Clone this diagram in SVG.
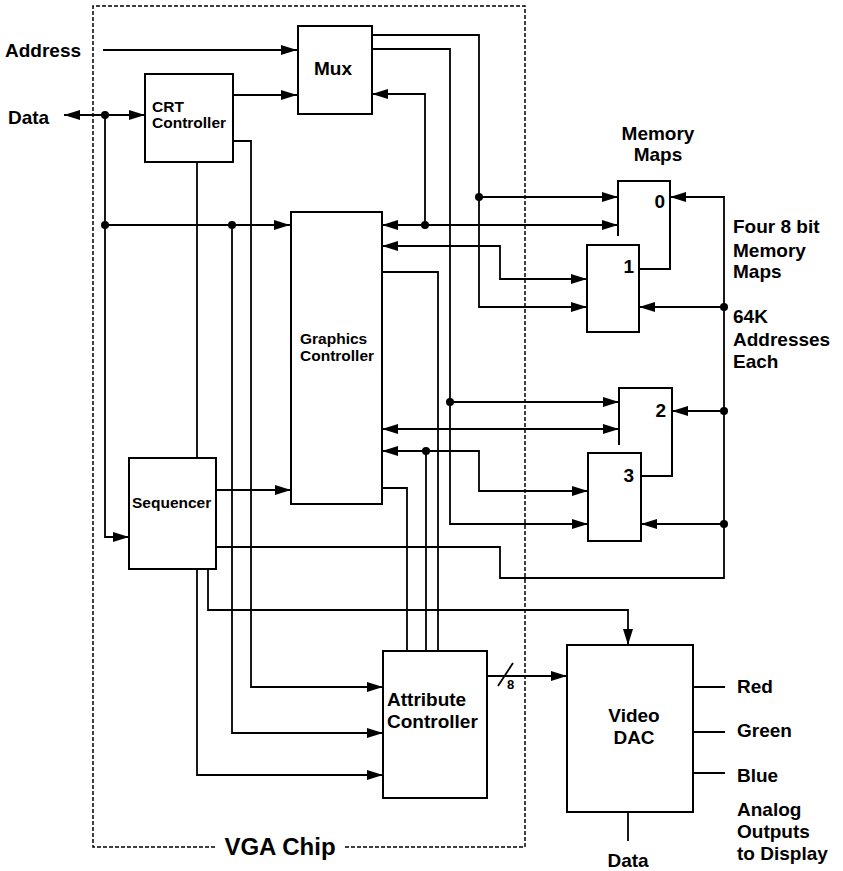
<svg xmlns="http://www.w3.org/2000/svg" width="843" height="871" viewBox="0 0 843 871">
<style>
.box{fill:#fff;stroke:#000;stroke-width:2}
.ln{fill:none;stroke:#000;stroke-width:1.8}
.ar{marker-end:url(#ah)}
.bi{marker-start:url(#ahs);marker-end:url(#ah)}
.t{font-family:"Liberation Sans",Arial,sans-serif;font-weight:bold;font-size:19px;fill:#000}
.s{font-size:15.5px}
.dash{fill:none;stroke:#000;stroke-width:1.5;stroke-dasharray:4 2}
</style>
<defs>
<marker id="ah" markerUnits="userSpaceOnUse" markerWidth="16" markerHeight="10" refX="16" refY="5" orient="auto"><path d="M0,0 L16,5 L0,10 z" fill="#000"/></marker>
<marker id="ahs" markerUnits="userSpaceOnUse" markerWidth="16" markerHeight="10" refX="16" refY="5" orient="auto-start-reverse"><path d="M0,0 L16,5 L0,10 z" fill="#000"/></marker>
</defs>
<rect width="843" height="871" fill="#fff"/>
<g id="vga-chip">
<path class="dash" d="M215,847 H93 V6 H525 V847 H345"/>
<text class="t" x="280" y="855" font-size="24" style="font-size:24px" text-anchor="middle">VGA Chip</text>
</g>
<g id="connectors">
<path class="ln ar" d="M103,50 H297"/>
<path class="ln ar" d="M233,95 H297"/>
<path class="ln bi" d="M64,115 H145"/>
<path class="ln ar" d="M105,115 V537 H129"/>
<path class="ln ar" d="M105,225 H290"/>
<path class="ln ar" d="M232,225 V733 H383"/>
<path class="ln" d="M197,162 V458"/>
<path class="ln ar" d="M197,569 V775 H383"/>
<path class="ln ar" d="M233,141 H251 V687 H383"/>
<path class="ln ar" d="M216,490 H291"/>
<path class="ln ar" d="M216,547 H500 V578 H724 V197 H670"/>
<path class="ln ar" d="M208,569 V610 H628 V645"/>
<path class="ln ar" d="M372,35 H479 V307 H587"/>
<path class="ln ar" d="M479,197 H618"/>
<path class="ln ar" d="M372,49 H450 V524 H588"/>
<path class="ln ar" d="M450,402 H619"/>
<path class="ln bi" d="M382,225 H618"/>
<path class="ln ar" d="M425,225 V94 H372"/>
<path class="ln bi" d="M382,246 H500 V279 H587"/>
<path class="ln" d="M382,272 H438 V651"/>
<path class="ln bi" d="M382,429 H619"/>
<path class="ln bi" d="M382,451 H479 V491 H588"/>
<path class="ln" d="M426,451 V651"/>
<path class="ln" d="M382,488 H407 V651"/>
<path class="ln ar" d="M724,307 H639"/>
<path class="ln ar" d="M724,411 H672"/>
<path class="ln ar" d="M724,524 H641"/>
<path class="ln ar" d="M487,676 H567"/>
<path class="ln" d="M498,686 L513,663"/>
<path class="ln" d="M693,687 H725 M693,732 H725 M693,773 H725"/>
<path class="ln" d="M628,812 V841"/>
<g fill="#000">
<circle cx="105" cy="115" r="4"/>
<circle cx="105" cy="225" r="4"/>
<circle cx="232" cy="225" r="4"/>
<circle cx="479" cy="197" r="4"/>
<circle cx="450" cy="402" r="4"/>
<circle cx="425" cy="225" r="4"/>
<circle cx="426" cy="451" r="4"/>
<circle cx="724" cy="307" r="4"/>
<circle cx="724" cy="411" r="4"/>
<circle cx="724" cy="524" r="4"/>
</g>
<text class="t" x="507" y="689" style="font-size:13px">8</text>
</g>
<g id="address-label"><text class="t" x="5" y="57">Address</text></g>
<g id="data-label"><text class="t" x="8" y="124">Data</text></g>
<g id="mux"><rect class="box" x="298" y="26" width="74" height="88"/><text class="t" x="333" y="75" text-anchor="middle">Mux</text></g>
<g id="crt-controller"><rect class="box" x="145" y="74" width="88" height="88"/><text class="t s" x="152" y="112">CRT</text><text class="t s" x="152" y="128">Controller</text></g>
<g id="graphics-controller"><rect class="box" x="291" y="212" width="91" height="292"/><text class="t s" x="300" y="344">Graphics</text><text class="t s" x="300" y="361">Controller</text></g>
<g id="sequencer"><rect class="box" x="129" y="458" width="87" height="111"/><text class="t s" x="132" y="508">Sequencer</text></g>
<g id="attribute-controller"><rect class="box" x="383" y="651" width="104" height="147"/><text class="t" x="387" y="706">Attribute</text><text class="t" x="387" y="728">Controller</text></g>
<g id="video-dac"><rect class="box" x="567" y="645" width="126" height="167"/><text class="t" x="634" y="722" text-anchor="middle">Video</text><text class="t" x="634" y="744" text-anchor="middle">DAC</text></g>
<g id="memory-maps-title"><text class="t" x="658" y="140" text-anchor="middle">Memory</text><text class="t" x="658" y="161" text-anchor="middle">Maps</text></g>
<g id="map0"><path class="box" d="M618,236 V181 H670 V269 H639"/><text class="t" x="665" y="208" text-anchor="end">0</text></g>
<g id="map1"><rect class="box" x="587" y="245" width="52" height="87"/><text class="t" x="634" y="273" text-anchor="end">1</text></g>
<g id="map2"><path class="box" d="M619,445 V388 H672 V476 H641"/><text class="t" x="666" y="417" text-anchor="end">2</text></g>
<g id="map3"><rect class="box" x="588" y="453" width="53" height="88"/><text class="t" x="634" y="482" text-anchor="end">3</text></g>
<g id="memory-note"><text class="t" x="733" y="233">Four 8 bit</text><text class="t" x="733" y="257">Memory</text><text class="t" x="733" y="278">Maps</text><text class="t" x="733" y="323">64K</text><text class="t" x="733" y="346">Addresses</text><text class="t" x="733" y="368">Each</text></g>
<g id="outputs"><text class="t" x="737" y="693">Red</text><text class="t" x="737" y="737">Green</text><text class="t" x="737" y="782">Blue</text><text class="t" x="737" y="816">Analog</text><text class="t" x="737" y="838">Outputs</text><text class="t" x="737" y="860">to Display</text></g>
<g id="dac-data-label"><text class="t" x="628" y="867" text-anchor="middle">Data</text></g>
</svg>
